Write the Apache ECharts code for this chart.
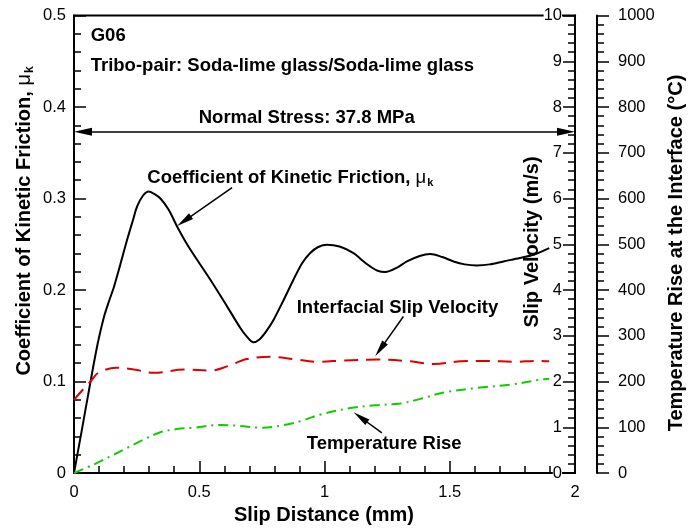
<!DOCTYPE html>
<html>
<head>
<meta charset="utf-8">
<title>G06 kinetic friction, slip velocity and temperature rise</title>
<script src="https://cdn.jsdelivr.net/npm/echarts@6/dist/echarts.min.js"></script>
<style>
  html, body { margin: 0; padding: 0; background: #fff; }
  #chart { width: 689px; height: 528px; }
</style>
</head>
<body>
<div id="chart"></div>
<script>
// ---- Measured curves (slip distance in mm) ----
const frictionDistance = [0, 0.03, 0.066, 0.095, 0.119, 0.14, 0.159, 0.185, 0.212, 0.235, 0.252, 0.275, 0.298, 0.32, 0.345, 0.378, 0.4115, 0.4447, 0.478, 0.5444, 0.611, 0.664, 0.69, 0.716, 0.74, 0.765, 0.797, 0.835, 0.876, 0.91, 0.943, 0.975, 1.01, 1.06, 1.116, 1.15, 1.182, 1.212, 1.242, 1.29, 1.329, 1.38, 1.422, 1.47, 1.515, 1.56, 1.608, 1.66, 1.714, 1.78, 1.834, 1.897];
const frictionCoefficient = [0, 0.045, 0.100, 0.142, 0.170, 0.188, 0.203, 0.228, 0.2549, 0.276, 0.2913, 0.303, 0.3076, 0.305, 0.300, 0.2877, 0.2694, 0.2531, 0.2385, 0.2112, 0.1821, 0.1585, 0.149, 0.1428, 0.146, 0.154, 0.1676, 0.188, 0.2112, 0.229, 0.2404, 0.247, 0.2495, 0.2475, 0.2404, 0.2325, 0.2258, 0.221, 0.2196, 0.2245, 0.2312, 0.2372, 0.2393, 0.236, 0.2312, 0.228, 0.2268, 0.228, 0.2312, 0.235, 0.2385, 0.2458];

const velocityDistance = [0, 0.035, 0.066, 0.097, 0.17, 0.24, 0.319, 0.438, 0.545, 0.611, 0.69, 0.784, 0.877, 0.97, 1.077, 1.21, 1.343, 1.436, 1.543, 1.65, 1.756, 1.849, 1.897];
const slipVelocity = [1.60, 1.82, 2.0, 2.19, 2.30, 2.26, 2.19, 2.26, 2.24, 2.33, 2.49, 2.54, 2.49, 2.43, 2.46, 2.48, 2.44, 2.38, 2.44, 2.45, 2.43, 2.45, 2.44];

const temperatureDistance = [0, 0.079, 0.146, 0.212, 0.278, 0.345, 0.41, 0.478, 0.585, 0.66, 0.745, 0.851, 0.92, 0.984, 1.104, 1.2, 1.303, 1.383, 1.476, 1.609, 1.742, 1.862, 1.897];
const temperatureRise = [0, 18.6, 36.7, 55, 73, 89, 96, 99, 105, 103, 99, 106, 116, 128, 142, 148, 152, 162, 176, 186, 193, 204, 206];

// ---- Axis ranges [min, max, step] ----
const distanceAxis = [0, 2, 0.5];
const frictionAxis = [0, 0.5, 0.1];
const velocityAxis = [0, 10, 1];
const temperatureAxis = [0, 1000, 100];

// ---- Annotation arrows: [tail, tip] in data units ----
const normalStressLevel = 0.373;                       // friction-axis units
const frictionArrow = [[0.631, 0.312], [0.4116, 0.270]];
const velocityArrow = [[1.315, 3.42], [1.2024, 2.55]];
const temperatureArrow = [[1.229, 87.8], [1.116, 132.8]];

const FONT = "'Liberation Sans', Arial, Helvetica, sans-serif";
const TICK_FONT = 16.5;
const NOTE_FONT = 18.5;
const TITLE_FONT = 20;
const HEAD_BIG = [8, 18];
const HEAD_SMALL = [7, 17];

const zip = (xs, ys) => xs.map((x, i) => [x, ys[i]]);
const plainNumber = (v) => String(+v.toFixed(6));

function axisBase(range, opts) {
  return Object.assign({
    type: 'value',
    min: range[0], max: range[1], interval: range[2],
    axisLine: { show: true, onZero: false, lineStyle: { color: '#000', width: 2 } },
    axisTick: { show: true, inside: true, length: 12, lineStyle: { color: '#000', width: 1.5 } },
    minorTick: { show: true, splitNumber: 5, length: 7, lineStyle: { color: '#000', width: 1.5 } },
    splitLine: { show: false },
    minorSplitLine: { show: false }
  }, opts);
}

function labelStyle(extra) {
  return Object.assign({
    fontFamily: FONT, fontSize: TICK_FONT, color: '#000',
    showMinLabel: true, showMaxLabel: true, formatter: plainNumber
  }, extra);
}

const arrowLine = { color: '#000', width: 1.5, type: 'solid' };

function markLineOf(segments) {
  return {
    silent: true,
    animation: false,
    lineStyle: arrowLine,
    label: { show: false },
    emphasis: { disabled: true },
    data: segments
  };
}

// Arrow segments for a series; with a chart given, each triangle is pulled
// back so that its point sits exactly on the arrow's end
function arrowSegments(seriesIndex, chartRef) {
  const shift = (tail, tip, size) => {
    if (!chartRef) return tip;
    const a = chartRef.convertToPixel({ seriesIndex }, tail);
    const b = chartRef.convertToPixel({ seriesIndex }, tip);
    const dx = a[0] - b[0], dy = a[1] - b[1];
    const len = Math.hypot(dx, dy) || 1;
    const half = size[1] / 2;
    return chartRef.convertFromPixel({ seriesIndex }, [b[0] + dx / len * half, b[1] + dy / len * half]);
  };
  if (seriesIndex === 0) {
    const left = [distanceAxis[0], normalStressLevel];
    const right = [distanceAxis[1], normalStressLevel];
    return [
      [
        { coord: shift(right, left, HEAD_BIG), symbol: 'triangle', symbolSize: HEAD_BIG },
        { coord: shift(left, right, HEAD_BIG), symbol: 'triangle', symbolSize: HEAD_BIG }
      ],
      [
        { coord: frictionArrow[0], symbol: 'none' },
        { coord: shift(frictionArrow[0], frictionArrow[1], HEAD_SMALL), symbol: 'triangle', symbolSize: HEAD_SMALL }
      ]
    ];
  }
  const arrow = seriesIndex === 1 ? velocityArrow : temperatureArrow;
  return [[
    { coord: arrow[0], symbol: 'none' },
    { coord: shift(arrow[0], arrow[1], HEAD_SMALL), symbol: 'triangle', symbolSize: HEAD_SMALL }
  ]];
}

const subRich = (size) => ({
  b: { fontFamily: FONT, fontWeight: 'bold', fontSize: size, color: '#000' },
  mu: { fontFamily: FONT, fontWeight: 'normal', fontSize: size, color: '#000' },
  k: { fontFamily: FONT, fontWeight: 'bold', fontSize: Math.round(size * 0.62), color: '#000', padding: [Math.round(size * 0.62), 0, 0, 1] }
});

function boldText(x, y, text, size, align, rotation) {
  return {
    type: 'text', x, y, rotation: rotation || 0, silent: true,
    style: { text, fontFamily: FONT, fontWeight: 'bold', fontSize: size, fill: '#000', align, verticalAlign: 'middle' }
  };
}

const chart = echarts.init(document.getElementById('chart'), null, { renderer: 'canvas' });

chart.setOption({
  animation: false,
  backgroundColor: '#fff',
  textStyle: { fontFamily: FONT },
  grid: {
    left: 74, right: 114, top: 15.5, bottom: 55,
    show: true, borderColor: '#000', borderWidth: 2, backgroundColor: 'transparent',
    containLabel: false, outerBoundsMode: 'none'
  },
  xAxis: axisBase(distanceAxis, {
    position: 'bottom',
    axisLabel: labelStyle({ margin: 11 })
  }),
  yAxis: [
    axisBase(frictionAxis, {
      position: 'left',
      axisLabel: labelStyle({ margin: 8 })
    }),
    axisBase(velocityAxis, {
      position: 'right', offset: 0, z: 5,
      axisLabel: labelStyle({ inside: true, margin: 13, backgroundColor: '#fff' })
    }),
    axisBase(temperatureAxis, {
      position: 'right', offset: 22,
      axisTick: { show: true, inside: false, length: 12, lineStyle: { color: '#000', width: 1.5 } },
      axisLabel: labelStyle({ margin: 21 })
    })
  ],
  series: [
    {
      name: 'Coefficient of Kinetic Friction',
      type: 'line', xAxisIndex: 0, yAxisIndex: 0,
      data: zip(frictionDistance, frictionCoefficient),
      showSymbol: false, smooth: 0.3,
      lineStyle: { color: '#000', width: 2 },
      z: 3,
      markLine: markLineOf(arrowSegments(0, null))
    },
    {
      name: 'Interfacial Slip Velocity',
      type: 'line', xAxisIndex: 0, yAxisIndex: 1,
      data: zip(velocityDistance, slipVelocity),
      showSymbol: false, smooth: 0.35,
      lineStyle: { color: '#dd0000', width: 2, type: [14, 8] },
      markLine: markLineOf(arrowSegments(1, null))
    },
    {
      name: 'Temperature Rise',
      type: 'line', xAxisIndex: 0, yAxisIndex: 2,
      data: zip(temperatureDistance, temperatureRise),
      showSymbol: false, smooth: 0.35,
      lineStyle: { color: '#11cc00', width: 2, type: [10, 5, 2, 5] },
      markLine: markLineOf(arrowSegments(2, null))
    }
  ],
  graphic: [
    // axis titles
    boldText(324, 515, 'Slip Distance (mm)', TITLE_FONT, 'center'),
    {
      type: 'text', x: 24, y: 221, rotation: Math.PI / 2, silent: true,
      style: {
        text: '{b|Coefficient of Kinetic Friction, }{mu|μ}{k|k}',
        rich: subRich(TITLE_FONT), align: 'center', verticalAlign: 'middle'
      }
    },
    boldText(532, 242, 'Slip Velocity (m/s)', TITLE_FONT, 'center', Math.PI / 2),
    boldText(676, 253, 'Temperature Rise at the Interface (°C)', TITLE_FONT, 'center', Math.PI / 2),
    // notes inside the plot
    boldText(90.7, 35.5, 'G06', NOTE_FONT, 'left'),
    boldText(90.7, 66, 'Tribo-pair: Soda-lime glass/Soda-lime glass', NOTE_FONT, 'left'),
    boldText(306.7, 118, 'Normal Stress: 37.8 MPa', NOTE_FONT, 'center'),
    {
      type: 'text', x: 147.3, y: 177.5, silent: true,
      style: {
        text: '{b|Coefficient of Kinetic Friction, }{mu|μ}{k|k}',
        rich: subRich(NOTE_FONT), align: 'left', verticalAlign: 'middle'
      }
    },
    boldText(296.7, 307.7, 'Interfacial Slip Velocity', NOTE_FONT, 'left'),
    boldText(306.7, 443.7, 'Temperature Rise', NOTE_FONT, 'left')
  ]
});

chart.setOption({
  series: [
    { markLine: { data: arrowSegments(0, chart) } },
    { markLine: { data: arrowSegments(1, chart) } },
    { markLine: { data: arrowSegments(2, chart) } }
  ]
});
</script>
</body>
</html>
